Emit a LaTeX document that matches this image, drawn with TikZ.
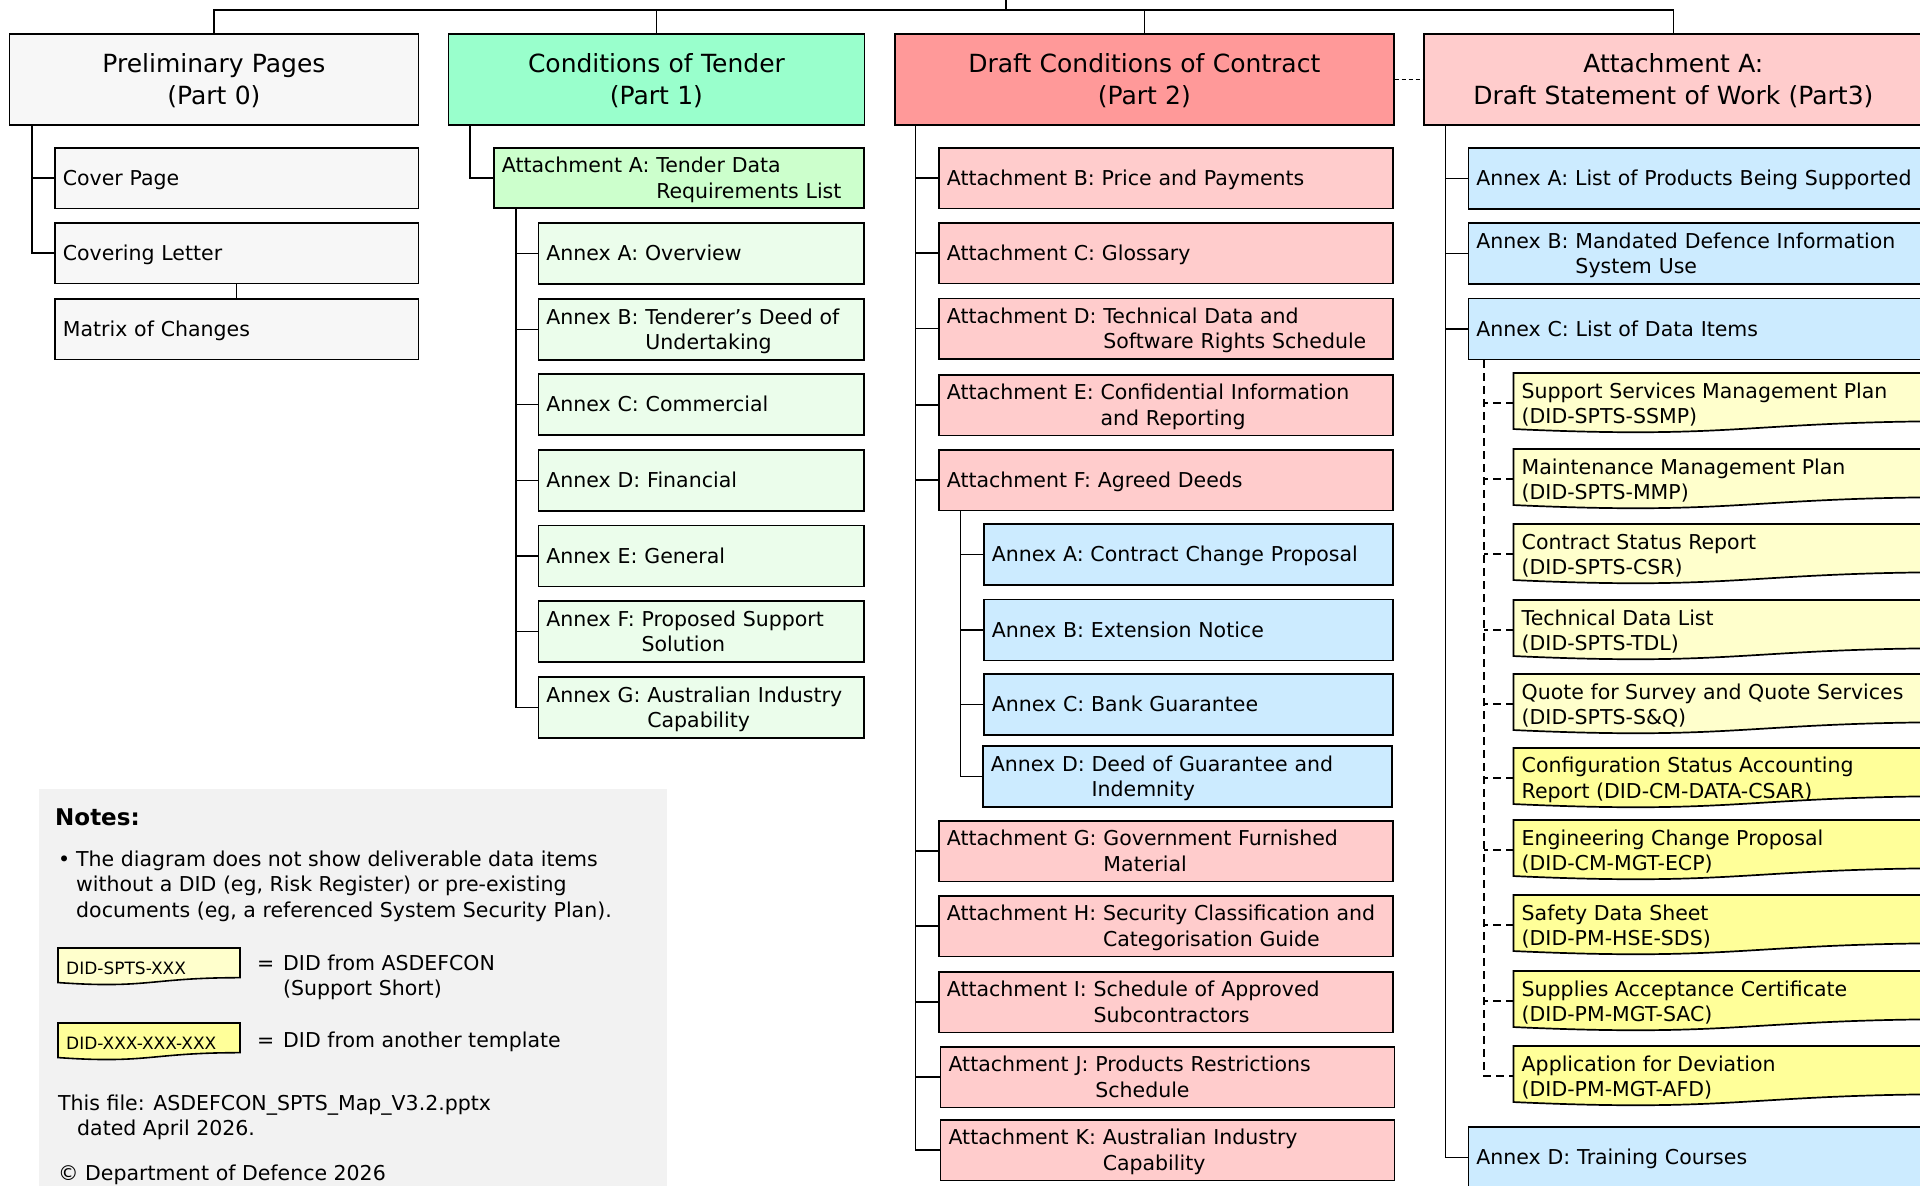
\documentclass[tikz,border=0pt]{standalone}
\usepackage{fontspec}
\setmainfont{DejaVu Sans}
\usetikzlibrary{calc}
\definecolor{pgray}{HTML}{F7F7F7}
\definecolor{mint}{HTML}{99FFCC}
\definecolor{salmon}{HTML}{FF9999}
\definecolor{pinkbox}{HTML}{FFCCCC}
\definecolor{lgreen}{HTML}{CCFFCC}
\definecolor{vlgreen}{HTML}{EBFDEB}
\definecolor{lblue}{HTML}{CCEBFF}
\definecolor{lyel}{HTML}{FFFFCC}
\definecolor{yel}{HTML}{FFFF99}
\definecolor{notegray}{HTML}{F2F2F2}
\newsavebox\hangbox
\newcommand\hang[3]{\sbox\hangbox{#1\ }\usebox\hangbox#2\\\hspace*{\wd\hangbox}#3}
\newcommand\bodystrut{\rule[-5pt]{0pt}{25pt}}
\newcommand\titlestrut{\rule[-5pt]{0pt}{29pt}}
\tikzset{
  bodyfont/.style={font=\fontsize{20.5}{25.5}\selectfont},
  bx/.style={draw=black, line width=1.7pt, rectangle, inner xsep=8pt, inner ysep=0pt, anchor=north west, align=left, bodyfont,
    execute at begin node=\bodystrut, execute at end node=\bodystrut},
  ttl/.style={draw=black, line width=1.7pt, rectangle, inner sep=0pt, anchor=north west, minimum height=91pt, align=center,
    font=\fontsize{25}{32}\selectfont, execute at begin node=\titlestrut, execute at end node=\titlestrut},
  ln/.style={line width=1.6pt},
  dl/.style={line width=1.6pt, dash pattern=on 8pt off 5pt},
  txt/.style={inner sep=0pt, anchor=base west, bodyfont},
}
\newcommand\bx[7]{%
  \pgfmathsetmacro\tw{#5-16}%
  \node[bx, fill=#2, text width=\tw pt, minimum height=#6pt] (#1) at (#3,#4) {#7};}
\newcommand\did[7]{%
  \filldraw[fill=#2, line width=1.7pt] (#3,#4) -- ({#3+#5},#4) -- ({#3+#5},{#4+0.802*#6})
    .. controls ({#3+0.5*#5},{#4+0.802*#6}) and ({#3+0.5*#5},{#4+1.1075*#6}) .. (#3,{#4+0.934*#6}) -- cycle;
  \node[anchor=north west, minimum width=#5pt, minimum height=#6pt, inner sep=0pt] (#1) at (#3,#4) {};
  \node[anchor=west, align=left, inner sep=0pt, bodyfont] (#1t) at ($(#1.west)+(8,1.5)$) {#7};}
\begin{document}
\begin{tikzpicture}[x=1pt,y=-1pt]
\useasboundingbox (0,0) rectangle (1920,1186);
\clip (0,0) rectangle (1920,1186);
\fill[white] (0,0) rectangle (1920,1186);
% notes background
\fill[notegray] (39,789) rectangle (667,1200);

% top level
\node[ttl, fill=pgray, text width=409pt] (prelim) at (8.6,33) {Preliminary Pages\\(Part 0)};
\node[ttl, fill=mint, text width=416pt] (cot) at (447.6,33) {Conditions of Tender\\(Part 1)};
\node[ttl, fill=salmon, text width=499pt] (draft) at (894,33) {Draft Conditions of Contract\\(Part 2)};
\node[ttl, fill=pinkbox, text width=499pt] (sow) at (1423,33) {Attachment A:\\Draft Statement of Work (Part3)};

% column 1
\bx{cover}{pgray}{54}{147}{363.6}{60.5}{Cover Page}
\bx{covering}{pgray}{54}{222}{363.6}{60.5}{Covering Letter}
\bx{matrix}{pgray}{54}{298}{363.6}{60.5}{Matrix of Changes}

% column 2
\bx{tdrl}{lgreen}{493}{147}{370.4}{60}{\hang{Attachment A:}{Tender Data}{Requirements List}}
\bx{ta}{vlgreen}{537.6}{222}{325.8}{61}{Annex A: Overview}
\bx{tb}{vlgreen}{537.6}{298}{325.8}{61}{\hang{Annex B:}{Tenderer’s Deed of}{Undertaking}}
\bx{tc}{vlgreen}{537.6}{373}{325.8}{61}{Annex C: Commercial}
\bx{td}{vlgreen}{537.6}{449}{325.8}{61}{Annex D: Financial}
\bx{te}{vlgreen}{537.6}{524.5}{325.8}{61}{Annex E: General}
\bx{tf}{vlgreen}{537.6}{600}{325.8}{61}{\hang{Annex F:}{Proposed Support}{Solution}}
\bx{tg}{vlgreen}{537.6}{676}{325.8}{61}{\hang{Annex G:}{Australian Industry}{Capability}}

% column 3
\bx{attB}{pinkbox}{938}{147}{454}{60.5}{Attachment B: Price and Payments}
\bx{attC}{pinkbox}{938}{222}{454}{60.5}{Attachment C: Glossary}
\bx{attD}{pinkbox}{938}{297.5}{454}{60.5}{\hang{Attachment D:}{Technical Data and}{Software Rights Schedule}}
\bx{attE}{pinkbox}{938}{374}{454}{60.5}{\hang{Attachment E:}{Confidential Information}{and Reporting}}
\bx{attF}{pinkbox}{938}{449}{454}{60.5}{Attachment F: Agreed Deeds}
\bx{fa}{lblue}{983}{523}{409}{61}{Annex A: Contract Change Proposal}
\bx{fb}{lblue}{983}{598.5}{409}{61}{Annex B: Extension Notice}
\bx{fc}{lblue}{983}{673}{409}{61}{Annex C: Bank Guarantee}
\bx{fd}{lblue}{982}{745}{409}{61}{\hang{Annex D:}{Deed of Guarantee and}{Indemnity}}
\bx{attG}{pinkbox}{938}{820}{454}{60.5}{\hang{Attachment G:}{Government Furnished}{Material}}
\bx{attH}{pinkbox}{938}{895}{454}{60.5}{\hang{Attachment H:}{Security Classification and}{Categorisation Guide}}
\bx{attI}{pinkbox}{938}{971}{454}{60.5}{\hang{Attachment I:}{Schedule of Approved}{Subcontractors}}
\bx{attJ}{pinkbox}{939.7}{1046}{454}{60.5}{\hang{Attachment J:}{Products Restrictions}{Schedule}}
\bx{attK}{pinkbox}{939.7}{1119}{454}{60.5}{\hang{Attachment K:}{Australian Industry}{Capability}}

% column 4
\bx{sowa}{lblue}{1467.6}{147}{470}{61}{Annex A: List of Products Being Supported}
\bx{sowb}{lblue}{1467.6}{222}{470}{61}{\hang{Annex B:}{Mandated Defence Information}{System Use}}
\bx{sowc}{lblue}{1467.6}{297.5}{470}{61}{Annex C: List of Data Items}
\bx{sowd}{lblue}{1467.6}{1126}{470}{61}{Annex D: Training Courses}

\did{ssmp}{lyel}{1513.5}{373}{455}{60}{Support Services Management Plan\\(DID-SPTS-SSMP)}
\did{mmp}{lyel}{1513.5}{449}{455}{60}{Maintenance Management Plan\\(DID-SPTS-MMP)}
\did{csr}{lyel}{1513.5}{524}{455}{60}{Contract Status Report\\(DID-SPTS-CSR)}
\did{tdl}{lyel}{1513.5}{600}{455}{60}{Technical Data List\\(DID-SPTS-TDL)}
\did{sq}{lyel}{1513.5}{674}{455}{60}{Quote for Survey and Quote Services\\(DID-SPTS-S\&Q)}
\did{csar}{yel}{1513.5}{748}{455}{60}{Configuration Status Accounting\\Report (DID-CM-DATA-CSAR)}
\did{ecp}{yel}{1513.5}{820}{455}{60}{Engineering Change Proposal\\(DID-CM-MGT-ECP)}
\did{sds}{yel}{1513.5}{895}{455}{60}{Safety Data Sheet\\(DID-PM-HSE-SDS)}
\did{sac}{yel}{1513.5}{971}{455}{60}{Supplies Acceptance Certificate\\(DID-PM-MGT-SAC)}
\did{afd}{yel}{1513.5}{1046}{455}{60}{Application for Deviation\\(DID-PM-MGT-AFD)}

% trunk positions
\coordinate (root) at (1006,-2);
\coordinate (bus) at (1006,10);
\coordinate (t1) at (32,0);
\coordinate (t2) at (470,0);
\coordinate (t3) at (516,0);
\coordinate (t4) at (915.6,0);
\coordinate (t5) at (960.5,0);
\coordinate (t6) at (1445.6,0);
\coordinate (t7) at (1484,0);

% top bus
\draw[ln] (root) -- (bus);
\draw[ln] (prelim.north) -- (prelim.north |- bus) -- (sow.north |- bus) -- (sow.north);
\draw[ln] (cot.north) -- (cot.north |- bus);
\draw[ln] (draft.north) -- (draft.north |- bus);
\draw[ln, dash pattern=on 4pt off 3pt] (draft.east) -- (sow.west);

% column 1 connectors
\draw[ln] (prelim.south -| t1) |- (covering.west);
\draw[ln] (cover.west) -- (cover.west -| t1);
\draw[ln] (covering.south) -- (matrix.north);

% column 2 connectors
\draw[ln] (cot.south -| t2) |- (tdrl.west);
\draw[ln] (tdrl.south -| t3) |- (tg.west);
\foreach \n in {ta,tb,tc,td,te,tf} \draw[ln] (\n.west) -- (\n.west -| t3);

% column 3 connectors
\draw[ln] (draft.south -| t4) |- (attK.west);
\foreach \n in {attB,attC,attD,attE,attF,attG,attH,attI,attJ} \draw[ln] (\n.west) -- (\n.west -| t4);
\draw[ln] (attF.south -| t5) |- (fd.west);
\foreach \n in {fa,fb,fc} \draw[ln] (\n.west) -- (\n.west -| t5);

% column 4 connectors
\draw[ln] (sow.south -| t6) |- (sowd.west);
\foreach \n in {sowa,sowb,sowc} \draw[ln] (\n.west) -- (\n.west -| t6);
\draw[dl] (sowc.south -| t7) |- (afd.west);
\foreach \n in {ssmp,mmp,csr,tdl,sq,csar,ecp,sds,sac} \draw[dl] (\n.west) -- (\n.west -| t7);

% notes
\node[inner sep=0pt, anchor=base west, font=\bfseries\fontsize{23}{28}\selectfont] (notes) at (55,825) {Notes:};
\node[txt] (bullet) at (58,866) {•};
\node[txt] (n1) at (76,866) {The diagram does not show deliverable data items};
\node[txt] (n2) at (76,891.5) {without a DID (eg, Risk Register) or pre-existing};
\node[txt] (n3) at (76,917) {documents (eg, a referenced System Security Plan).};

\filldraw[fill=lyel, line width=1.6pt] (58,948) -- (240,948) -- (240,{948+0.802*37})
  .. controls (149,{948+0.802*37}) and (149,{948+1.1075*37}) .. (58,{948+0.934*37}) -- cycle;
\node[inner sep=0pt, anchor=base west, font=\fontsize{17}{20}\selectfont] (lg1) at (66,974) {DID-SPTS-XXX};
\filldraw[fill=yel, line width=1.6pt] (58,1023) -- (240,1023) -- (240,{1023+0.802*37})
  .. controls (149,{1023+0.802*37}) and (149,{1023+1.1075*37}) .. (58,{1023+0.934*37}) -- cycle;
\node[inner sep=0pt, anchor=base west, font=\fontsize{17}{20}\selectfont] (lg2) at (66,1049) {DID-XXX-XXX-XXX};

\node[txt] (eq1) at (257,970) {=};
\node[txt] (l1a) at (283,970) {DID from ASDEFCON};
\node[txt] (l1b) at (283,995.5) {(Support Short)};
\node[txt] (eq2) at (257,1047) {=};
\node[txt] (l2) at (283,1047) {DID from another template};

\node[txt] (f1) at (58,1110) {This file: ASDEFCON\_SPTS\_Map\_V3.2.pptx};
\node[txt] (f2) at (77,1135.5) {dated April 2026.};
\node[txt] (f3) at (58,1180.5) {© Department of Defence 2026};
\end{tikzpicture}
\end{document}
